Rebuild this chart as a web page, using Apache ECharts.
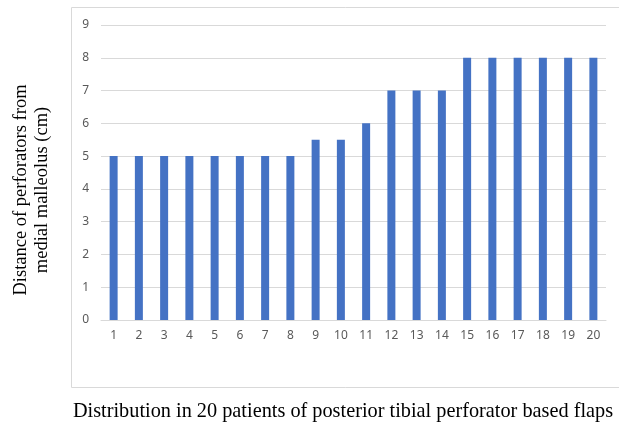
<!DOCTYPE html>
<html>
<head>
<meta charset="utf-8">
<script src="https://cdn.jsdelivr.net/npm/echarts@6/dist/echarts.min.js"></script>
<style>
  html, body { margin: 0; padding: 0; background: #fff; }
  #chart { width: 619px; height: 423px; }
</style>
</head>
<body>
<div id="chart"></div>
<script>
  // patients 1..20
  var patients = ['1', '2', '3', '4', '5', '6', '7', '8', '9', '10',
    '11', '12', '13', '14', '15', '16', '17', '18', '19', '20']
  // distance of perforators from medial malleolus (cm)
  var distances = [5, 5, 5, 5, 5, 5, 5, 5, 5.5, 5.5, 6, 7, 7, 7, 8, 8, 8, 8, 8, 8]
  var yTitle = 'Distance of perforators from\nmedial malleolus (cm)'
  var xTitle = 'Distribution in 20 patients of posterior tibial perforator based flaps'

  var chart = echarts.init(document.getElementById('chart'))
  chart.setOption({
    animation: false,
    grid: {
      left: 101,
      right: 13,
      top: 25,
      bottom: 103
    },
    graphic: [
      {
        // chart area frame, runs off the right edge
        type: 'rect',
        shape: { x: 71.5, y: 7.5, width: 580, height: 380 },
        style: { fill: 'none', stroke: '#d9d9d9', lineWidth: 1 },
        z: -1
      },
      {
        type: 'text',
        x: 32,
        y: 190,
        rotation: Math.PI / 2,
        style: {
          text: yTitle,
          font: '18.5px "Liberation Serif"',
          fill: '#000',
          textAlign: 'center',
          textVerticalAlign: 'middle',
          lineHeight: 21
        }
      },
      {
        type: 'text',
        x: 343,
        y: 412,
        style: {
          text: xTitle,
          font: '20.3px "Liberation Serif"',
          fill: '#000',
          textAlign: 'center',
          textVerticalAlign: 'middle'
        }
      }
    ],
    xAxis: {
      type: 'category',
      data: patients,
      axisTick: { show: false },
      axisLine: { lineStyle: { color: '#d9d9d9' } },
      axisLabel: {
        color: '#595959',
        fontSize: 12,
        fontFamily: 'Noto Sans',
        margin: 10
      }
    },
    yAxis: {
      type: 'value',
      min: 0,
      max: 9,
      interval: 1,
      axisLabel: {
        color: '#595959',
        fontSize: 12,
        fontFamily: 'Noto Sans',
        margin: 12
      },
      splitLine: { lineStyle: { color: '#d9d9d9' } }
    },
    series: [{
      type: 'bar',
      data: distances,
      barWidth: 8,
      itemStyle: { color: '#4472c4' }
    }]
  })
</script>
</body>
</html>
